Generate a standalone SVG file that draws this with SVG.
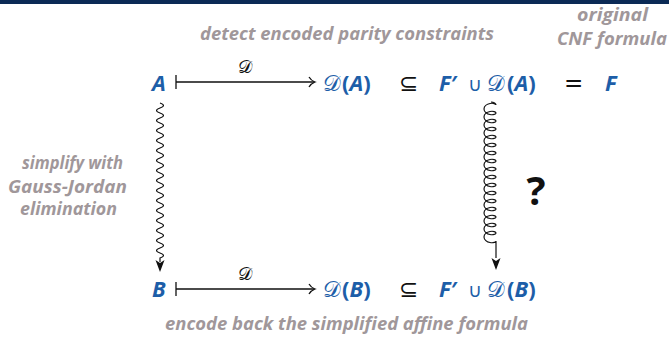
<svg xmlns="http://www.w3.org/2000/svg" width="669" height="338" viewBox="0 0 669 338">
<style>
.note{font-family:"Open Sans","Liberation Sans",sans-serif;font-style:italic;font-weight:bold;font-size:18px;fill:#a0979a}
.m{font-family:"Open Sans","Liberation Sans",sans-serif;font-weight:bold;font-size:22px;fill:#1d5ea8}
.i{font-style:italic}
.cal{font-family:"DejaVu Sans","DejaVu Serif",serif;font-weight:normal;font-style:normal;font-size:22px}
.cup{font-family:"DejaVu Sans",sans-serif;font-weight:normal;font-size:19px}
.op{font-family:"DejaVu Sans",sans-serif;font-weight:normal;font-size:23px;fill:#111}
.lbl{font-family:"DejaVu Sans","DejaVu Serif",serif;font-size:18px;fill:#111}
.ln{stroke:#111;stroke-width:1.3;fill:none}
.wv{stroke:#111;stroke-width:1.2;fill:none}
</style>
<rect x="0" y="0" width="669" height="4" fill="#0b2a55"/>
<rect x="0" y="4" width="669" height="334" fill="#ffffff"/>
<g id="notes">
<text class="note" x="200" y="40" textLength="294" lengthAdjust="spacingAndGlyphs">detect encoded parity constraints</text>
<text class="note" x="577" y="21" font-size="17" textLength="71" lengthAdjust="spacingAndGlyphs">original</text>
<text class="note" x="557" y="45" textLength="110" lengthAdjust="spacingAndGlyphs">CNF formula</text>
<text class="note" x="22" y="169" textLength="101" lengthAdjust="spacingAndGlyphs">simplify with</text>
<text class="note" x="8" y="193" textLength="119" lengthAdjust="spacingAndGlyphs">Gauss-Jordan</text>
<text class="note" x="20" y="215" textLength="97" lengthAdjust="spacingAndGlyphs">elimination</text>
<text class="note" x="165" y="330" textLength="363" lengthAdjust="spacingAndGlyphs">encode back the simplified affine formula</text>
</g>
<g id="nodeA"><text class="m i" x="152" y="91">A</text></g>
<g id="nodeDA"><text class="m" y="91"><tspan class="cal" x="323">𝒟</tspan><tspan x="342">(</tspan><tspan class="i">A</tspan>)</text></g>
<g id="subA"><text class="op" x="399" y="91">⊆</text></g>
<g id="nodeFDA"><text class="m" y="91"><tspan class="i" x="439">F</tspan>′<tspan class="cup" x="468">∪</tspan><tspan class="cal" x="487">𝒟</tspan><tspan x="507">(</tspan><tspan class="i">A</tspan>)</text></g>
<g id="eq"><text class="op" x="564" y="91">=</text></g>
<g id="nodeF"><text class="m i" x="605" y="91">F</text></g>
<g id="nodeB"><text class="m i" x="152" y="297">B</text></g>
<g id="nodeDB"><text class="m" y="297"><tspan class="cal" x="323">𝒟</tspan><tspan x="342">(</tspan><tspan class="i">B</tspan>)</text></g>
<g id="subB"><text class="op" x="399" y="297">⊆</text></g>
<g id="nodeFDB"><text class="m" y="297"><tspan class="i" x="439">F</tspan>′<tspan class="cup" x="468">∪</tspan><tspan class="cal" x="487">𝒟</tspan><tspan x="507">(</tspan><tspan class="i">B</tspan>)</text></g>
<g id="question"><text x="536" y="205" text-anchor="middle" font-family="Open Sans, Liberation Sans, sans-serif" font-weight="bold" font-size="40" fill="#111">?</text></g>
<g id="connectors">
<path class="ln" d="M176,75 V89 M176,82 H314"/>
<path class="ln" d="M309,77 q2,3.5 6,5 q-4,1.5 -6,5"/>
<text class="lbl" x="245" y="73" text-anchor="middle">𝒟</text>
<path class="ln" d="M176,282 V296 M176,289 H314"/>
<path class="ln" d="M309,284 q2,3.5 6,5 q-4,1.5 -6,5"/>
<text class="lbl" x="245" y="280" text-anchor="middle">𝒟</text>
<path class="wv" d="M160,103 q7,2.5 0,5 t0,5 t0,5 t0,5 t0,5 t0,5 t0,5 t0,5 t0,5 t0,5 t0,5 t0,5 t0,5 t0,5 t0,5 t0,5 t0,5 t0,5 t0,5 t0,5 t0,5 t0,5 t0,5 t0,5 t0,5 t0,5 t0,5 t0,5 t0,5 t0,5 t0,5 l0,4"/>
<path d="M160,272 L155.5,260 L160,263 L164.5,260 Z" fill="#111"/>
<path class="wv" d="M491,102 c3,0 5,1.5 5,3 c0,-1.17 -2.86,-2.17 -6,-1.5 c-3.14,0.67 -6,3 -6,5.5 c0,2.5 2.86,4.83 6,5.5 c3.14,0.67 6,-0.33 6,-1.5 c0,-1.17 -2.86,-2.17 -6,-1.5 c-3.14,0.67 -6,3 -6,5.5 c0,2.5 2.86,4.83 6,5.5 c3.14,0.67 6,-0.33 6,-1.5 c0,-1.17 -2.86,-2.17 -6,-1.5 c-3.14,0.67 -6,3 -6,5.5 c0,2.5 2.86,4.83 6,5.5 c3.14,0.67 6,-0.33 6,-1.5 c0,-1.17 -2.86,-2.17 -6,-1.5 c-3.14,0.67 -6,3 -6,5.5 c0,2.5 2.86,4.83 6,5.5 c3.14,0.67 6,-0.33 6,-1.5 c0,-1.17 -2.86,-2.17 -6,-1.5 c-3.14,0.67 -6,3 -6,5.5 c0,2.5 2.86,4.83 6,5.5 c3.14,0.67 6,-0.33 6,-1.5 c0,-1.17 -2.86,-2.17 -6,-1.5 c-3.14,0.67 -6,3 -6,5.5 c0,2.5 2.86,4.83 6,5.5 c3.14,0.67 6,-0.33 6,-1.5 c0,-1.17 -2.86,-2.17 -6,-1.5 c-3.14,0.67 -6,3 -6,5.5 c0,2.5 2.86,4.83 6,5.5 c3.14,0.67 6,-0.33 6,-1.5 c0,-1.17 -2.86,-2.17 -6,-1.5 c-3.14,0.67 -6,3 -6,5.5 c0,2.5 2.86,4.83 6,5.5 c3.14,0.67 6,-0.33 6,-1.5 c0,-1.17 -2.86,-2.17 -6,-1.5 c-3.14,0.67 -6,3 -6,5.5 c0,2.5 2.86,4.83 6,5.5 c3.14,0.67 6,-0.33 6,-1.5 c0,-1.17 -2.86,-2.17 -6,-1.5 c-3.14,0.67 -6,3 -6,5.5 c0,2.5 2.86,4.83 6,5.5 c3.14,0.67 6,-0.33 6,-1.5 c0,-1.17 -2.86,-2.17 -6,-1.5 c-3.14,0.67 -6,3 -6,5.5 c0,2.5 2.86,4.83 6,5.5 c3.14,0.67 6,-0.33 6,-1.5 c0,-1.17 -2.86,-2.17 -6,-1.5 c-3.14,0.67 -6,3 -6,5.5 c0,2.5 2.86,4.83 6,5.5 c3.14,0.67 6,-0.33 6,-1.5 c0,-1.17 -2.86,-2.17 -6,-1.5 c-3.14,0.67 -6,3 -6,5.5 c0,2.5 2.86,4.83 6,5.5 c3.14,0.67 6,-0.33 6,-1.5 c0,-1.17 -2.86,-2.17 -6,-1.5 c-3.14,0.67 -6,3 -6,5.5 c0,2.5 2.86,4.83 6,5.5 c3.14,0.67 6,-0.33 6,-1.5 c0,-1.17 -2.86,-2.17 -6,-1.5 c-3.14,0.67 -6,3 -6,5.5 c0,2.5 2.86,4.83 6,5.5 c3.14,0.67 6,-0.33 6,-1.5 c0,-1.17 -2.86,-2.17 -6,-1.5 c-3.14,0.67 -6,3 -6,5.5 c0,2.5 2.86,4.83 6,5.5 c3.14,0.67 6,-0.33 6,-1.5 c0,-1.17 -2.86,-2.17 -6,-1.5 c-3.14,0.67 -6,3 -6,5.5 c0,2.5 2.86,4.83 6,5.5 c3.14,0.67 6,-0.33 6,-1.5 L496,258"/>
<path d="M496,270 L491.5,258 L496,261 L500.5,258 Z" fill="#111"/>
</g>
</svg>
